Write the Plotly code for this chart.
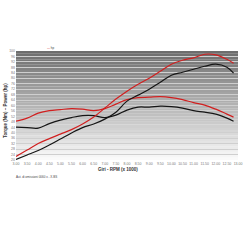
import plotly.graph_objects as go

rpm = [3.0, 3.5, 4.0, 4.5, 5.0, 5.5, 6.0, 6.5, 7.0, 7.5, 8.0, 8.5, 9.0, 9.5, 10.0, 10.5, 11.0, 11.5, 12.0, 12.5, 12.8]
power_red = [22.6, 27.3, 32.1, 35.7, 39.0, 42.3, 46.4, 51.5, 58.1, 64.7, 70.5, 75.6, 80.0, 85.1, 90.3, 93.2, 95.0, 97.6, 97.2, 93.9, 91.0]
power_black = [20.4, 23.7, 27.0, 31.0, 35.4, 39.8, 43.8, 46.4, 50.0, 55.1, 63.2, 67.6, 72.0, 77.1, 82.2, 84.4, 86.6, 88.8, 90.3, 88.1, 83.7]
torque_red = [48.5, 50.7, 54.4, 56.2, 57.0, 57.7, 57.3, 56.2, 57.7, 61.0, 64.3, 65.8, 66.1, 66.5, 65.8, 64.3, 62.1, 60.3, 57.3, 53.7, 51.5]
torque_black = [44.2, 43.8, 43.4, 46.7, 49.3, 51.1, 52.6, 52.6, 51.1, 52.9, 56.6, 58.8, 58.8, 59.5, 59.2, 58.1, 56.2, 55.1, 53.7, 50.7, 48.5]

x_ticks = [3 + 0.5 * i for i in range(21)]
x_labels = ["%.2f" % v for v in x_ticks]
y_ticks = list(range(20, 101, 4))

RED = "#d11f1f"
BLACK = "#151515"

fig = go.Figure()
for ys, c in [(torque_black, BLACK), (torque_red, RED), (power_black, BLACK), (power_red, RED)]:
    fig.add_trace(go.Scatter(x=rpm, y=ys, mode="lines", line=dict(color=c, width=1.2, shape="spline"),
                             showlegend=False, hoverinfo="skip"))

# gradient background
shapes = []
n = 40
for i in range(n):
    t = i / (n - 1)
    g = int(0x6c + (0xfb - 0x6c) * (1 - t) ** 1.0)
    col = "rgb(%d,%d,%d)" % (g, g, g)
    shapes.append(dict(type="rect", xref="paper", yref="paper", x0=0, x1=1,
                       y0=i / n, y1=(i + 1) / n, fillcolor=col, line=dict(width=0), layer="below"))
# reversed so top is dark
for s in shapes:
    pass
for idx, s in enumerate(shapes):
    t = (s["y0"] + s["y1"]) / 2
    g = int(0xfc - (0xfc - 0x6c) * t)
    s["fillcolor"] = "rgb(%d,%d,%d)" % (g, g, g)

fig.update_layout(
    width=250, height=250,
    margin=dict(l=16, r=8, t=51, b=90),
    paper_bgcolor="white", plot_bgcolor="#fafafa",
    shapes=shapes,
    font=dict(family="Liberation Sans, Arial", size=4, color="#666"),
    xaxis=dict(range=[3, 13], tickvals=x_ticks, ticktext=x_labels, showgrid=False,
               ticks="", zeroline=False, tickfont=dict(size=3.5, color="#777"), ticklen=0,
               showline=False),
    yaxis=dict(range=[20, 100], tickvals=y_ticks, ticktext=[str(v) for v in y_ticks],
               showgrid=True, gridcolor="#cfcfcf", gridwidth=1, zeroline=False,
               tickfont=dict(size=3.5, color="#777"), ticks=""),
    annotations=[
        dict(text="<b>Torque (Nm) – Power (hp)</b>", x=6, y=108, xref="paper", yref="paper",
             showarrow=False, textangle=-90, font=dict(size=4.5, color="#333"),
             xanchor="center", yanchor="middle"),
        dict(text="<b>Giri - RPM (x 1000)</b>", x=0.46, y=-0.09, xref="paper", yref="paper",
             showarrow=False, font=dict(size=4.5, color="#333"), xanchor="center", yanchor="middle"),
        dict(text="Aut. di omissioni 0060 x - X.BS", x=-0.01, y=-0.155, xref="paper", yref="paper",
             showarrow=False, font=dict(size=3, color="#444"), xanchor="left", yanchor="middle"),
        dict(text="<span style='color:#d11f1f'>—</span> hp", x=0.13, y=1.03, xref="paper", yref="paper",
             showarrow=False, font=dict(size=3, color="#444"), xanchor="left", yanchor="middle"),
    ],
)
# fix y-axis title annotation position in pixels
fig.layout.annotations[0].update(xref="paper", yref="paper", x=-0.045, y=0.45)

fig.write_html("out.html")
